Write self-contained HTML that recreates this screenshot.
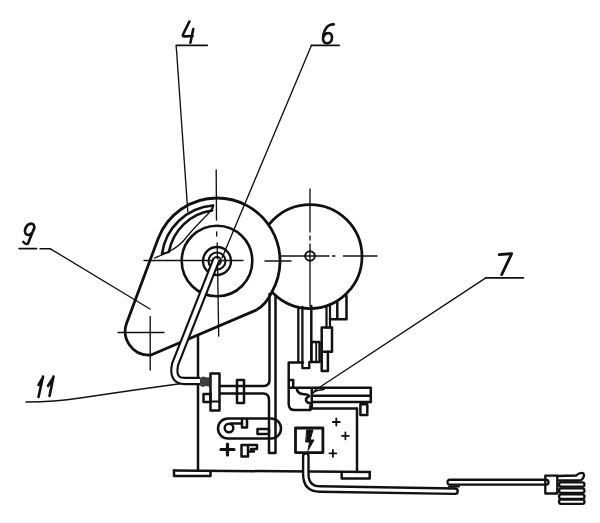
<!DOCTYPE html>
<html><head><meta charset="utf-8">
<style>
html,body{margin:0;padding:0;background:#fff;width:600px;height:523px;overflow:hidden}
svg{display:block;font-family:"Liberation Sans",sans-serif}
</style></head><body>
<svg width="600" height="523" viewBox="0 0 600 523">
<g fill="none" stroke="#111" stroke-linecap="round" stroke-linejoin="round">

<!-- ===== labels ===== -->
<g stroke-width="2.6">
  <!-- 4 -->
  <path d="M189.4 21.5 L183 34.5 Q182 36.5 185 36.4 L192.5 36"/>
  <path d="M193.3 29 L190.4 42.8"/>
  <path d="M176.4 45.4 L207.1 45.4" stroke-width="1.8"/>
  <!-- 6 -->
  <path d="M333.8 24.4 Q331 24 328 26 Q323.5 30 323 38 Q323 43.5 327.5 43.2 Q332 42.8 332 37.5 Q332 33 328 33 Q324.5 33.5 323.4 37"/>
  <path d="M311.4 45.4 L339.1 45.4" stroke-width="1.8"/>
  <!-- 9 -->
  <path d="M34.4 228.5 Q34.5 223.5 31 223.6 Q26.5 224 25 230 Q24.5 235 28.5 235 Q33 234 34.2 228 L28 243.5 Q26 245 23.3 242"/>
  <path d="M19 248.6 L36.7 248.6 M40.1 248.8 L50.4 248.8" stroke-width="1.6"/>
  <!-- 11 -->
  <path d="M43 376.5 L38.5 397 M38.5 385 L43 377.5 M53.5 376.5 L49.5 396 M48 386 L53 378"/>
  <!-- 7 -->
  <path d="M499.2 254.6 L511.7 253.6 L501.7 274.6" stroke-width="2.8"/>
  <path d="M485.8 277.9 L523.3 277.9" stroke-width="1.8"/>
</g>

<!-- ===== right disc ===== -->
<g stroke-width="2.75">
  <circle cx="310" cy="256.5" r="52"/>
  <circle cx="310" cy="256" r="4.8" stroke-width="2"/>
</g>
<g stroke-width="1.35">
  <path d="M310 189 L310 232 M310 236 L310 240 M310 244 L310 306"/>
  <path d="M271 256 L329 256 M332.5 256 L335 256 M343.5 256 L377 256"/>
</g>


<!-- ===== cam (left disc) ===== -->
<g stroke-width="2.8">
  <path d="M272.3 291.2 A63 63 0 0 0 217 198 A63 63 0 0 0 158 239 L126.6 323.3 C121.5 337 131 356.5 151 355 L256.2 310.1 Q266 305 272.3 291.2 Z" fill="#fff"/>
  <circle cx="217" cy="261" r="35.3" stroke-width="2.6"/>
  <circle cx="217" cy="261" r="14" stroke-width="2.3"/>
  <circle cx="217" cy="261" r="8.5" stroke-width="2.1"/>
  <circle cx="217" cy="261" r="4" stroke-width="1.8"/>
  <!-- slot -->
  <path d="M162 254 A56 56 0 0 1 213 205.5" stroke-width="2.6"/>
  <path d="M169 251.5 A51 51 0 0 1 212 210.5" stroke-width="2.6"/>
  <path d="M162 254 L169 252 M213 205.5 L212 210.5" stroke-width="2"/>
</g>
<path d="M154.4 258 C163 254.5 176 250 185 239 C193 229 200 222 206 216 Q212 210 213.5 205" stroke-width="1.3"/>

<!-- cam centre lines -->
<g stroke-width="1.35">
  <path d="M216.2 170 L216.5 220 M216.6 232 L216.7 236 M217.2 243 L218.7 336"/>
  <path d="M144 260.5 L243 260.5 M265 261 L291 261"/>
  <path d="M118 332.5 L164 332.5 M150.2 316.5 L150.2 370"/>
</g>

<!-- ===== leader lines ===== -->
<g stroke-width="1.35">
  <path d="M176.4 45.4 Q176 46 176.5 50 L187.8 211.7"/>
  <path d="M311.4 45.4 L222 258"/>
  <path d="M50.4 248.8 L150 309"/>
  <path d="M26 402 Q55 402 80 398 Q140 389 200 381"/>
  <path d="M485.8 277.9 L314 391"/>
</g>

<!-- ===== base / frame ===== -->
<g stroke-width="2.5">
  <!-- left base vertical -->
  <path d="M198 336 L198 470"/>
  <!-- base bottom line -->
  <path d="M174 470.5 L370 472"/>
  <!-- left foot -->
  <path d="M174 470.5 L174 476 L210.5 476 L210.5 471"/>
  <!-- right foot -->
  <path d="M341.7 472.5 L341.7 478.5 L369.7 478.5 L369.7 472.5"/>
  <!-- right base vertical -->
  <path d="M357 408.8 L357 472"/>
  <!-- frame column -->
  <path d="M269.5 294 L269.5 380 Q269.5 386 263.5 386 L220 386"/>
  <path d="M220 393.5 L264 393.5 Q269 394 269 400 L269 453 L275.5 453 L275.5 296"/>
  <!-- big disc on shaft -->
  <rect x="210.5" y="373.5" width="9" height="37"/>
  <rect x="203.5" y="394" width="7" height="8"/>
  <path d="M210.5 401.5 L219.5 401.5" stroke-width="1.8"/>
  <!-- second disc -->
  <rect x="237" y="380" width="7" height="23"/>
  <!-- slotted link -->
  <rect x="218" y="418.5" width="63" height="20" rx="10" ry="10"/>
  <circle cx="229" cy="428" r="4.3"/>
  <path d="M231 423.5 L242 423.5 M242 420 L242 427.5 L247 427.5 L247 419"/>
  <rect x="257.5" y="429" width="11.5" height="5"/>
  <!-- plus & F -->
  <path d="M227.5 444 L227.5 455 M221 449.5 L234 449.5" stroke-width="3.2"/>
  <path d="M241.5 445 L241.5 456.5 L248 456.5 L248 445 Z M248 445 L257 445 L257 449 L251 449 M248 451.5 L254 451.5"/>
  <!-- rod 11 end spring -->
  <path d="M199.5 378 L203 376.5 L207 377.5 L210.5 377 L210.5 387 L206 386 L202 387 L199.5 385 Z" fill="#2a2a2a" stroke="none" opacity="0.9"/>
</g>

<!-- ===== right assembly under right disc ===== -->
<g stroke-width="2.5">
  <path d="M298.3 307 L298.3 362 M302.4 307 L302.4 368.2 L309.3 368.2 L309.3 362" stroke-width="2.3"/>
  <path d="M311.3 306 L311.3 362"/>
  <rect x="311.3" y="342" width="8.3" height="20"/>
  <path d="M316.2 342 L316.2 362" stroke-width="1.8"/>
  <rect x="321.7" y="327.5" width="10.3" height="24.2"/>
  <path d="M321.7 351.7 L321.7 371 L327.9 371 L327.9 351.7"/>
  <path d="M326.5 306 L326.5 327.5 M330 304 L330 327.5" stroke-width="2.2"/>
  <path d="M330 319.3 L346.5 319.3 L346.5 296 M337.3 301 L337.3 319" />
  <!-- bracket -->
  <path d="M303 362.5 L288.7 362.5 L288.7 404 Q288.7 410.1 295 410.1 L310.4 410.1 L310.4 406"/>
  <path d="M289 380 L293.2 380 L293.2 387.7"/>
  <!-- bar 7 -->
  <path d="M289 387.7 L370.8 387.7 L370.8 402"/>
  <path d="M311.8 388.5 L311.8 407 M311.8 395.7 L370.8 395.7 M311.8 402 L370.8 402 M310.4 408.6 L357 408.6"/>
  <path d="M313 393 Q316 390 324 389.5" stroke-width="1.6"/>
  <path d="M296.7 388.5 Q297.5 394 304 394.3 Q309 394.5 309 396.3 Q305.5 397.8 306 400.5 Q307 403.3 311.5 403.3"/>
  <rect x="360.4" y="404.3" width="6.9" height="10.6"/>
  <!-- electrical box -->
  <rect x="295.5" y="428" width="27.4" height="24.6" stroke-width="2.8"/>
  <path d="M307 430 L313 430 L310 440 L314 440 L308 450.5 L309.5 442 L306 442 Z" fill="#111" stroke-width="1"/>
  <!-- plus signs -->
  <path d="M336.3 418.5 L336.3 425.5 M332.8 422 L339.8 422 M345.4 432.3 L345.4 439.3 M341.9 435.8 L348.9 435.8 M332.9 449.8 L332.9 456.8 M329.4 453.3 L336.4 453.3" stroke-width="1.8"/>
</g>

<!-- ===== cable ===== -->
<path d="M305.8 456 L305.8 474 Q305.8 489 320 489 L455 491.2" stroke-width="7.8" stroke-linecap="round"/>
<path d="M305.8 456 L305.8 474 Q305.8 489 320 489 L455 491.2" stroke="#fff" stroke-width="3" stroke-linecap="round"/>
<path d="M450 482.2 L546 482.2" stroke-width="7.2" stroke-linecap="round"/>
<path d="M450 482.2 L546 482.2" stroke="#fff" stroke-width="2.6" stroke-linecap="round"/>
<path d="M449 486.6 L459 486.6" stroke-width="2"/>
<g stroke-width="2.3">
  <rect x="545.3" y="475.7" width="12" height="17.8"/>
  <path d="M557.3 476 L576 475.5 Q581 471.8 583.5 473.5 Q585 476 582 479.5 Q581 480.5 578 480.5 L559 480.5"/>
  <rect x="559" y="482.3" width="25.5" height="4.4" rx="2.2"/>
  <rect x="559" y="488.4" width="25.5" height="4.4" rx="2.2"/>
  <rect x="559" y="494.4" width="25.5" height="4.4" rx="2.2"/>
  <rect x="559" y="499.7" width="25.5" height="4.2" rx="2.1"/>
</g>

<!-- ===== linkage rod 11 ===== -->
<path d="M216.6 259 L175.2 364 Q171.3 381 185 381 L200 381" stroke-width="8.3" stroke-linecap="butt"/>
<path d="M216.6 259 L175.2 364 Q171.3 381 185 381 L200 381" stroke="#fff" stroke-width="4" stroke-linecap="butt"/>

</g>
</svg>
</body></html>
